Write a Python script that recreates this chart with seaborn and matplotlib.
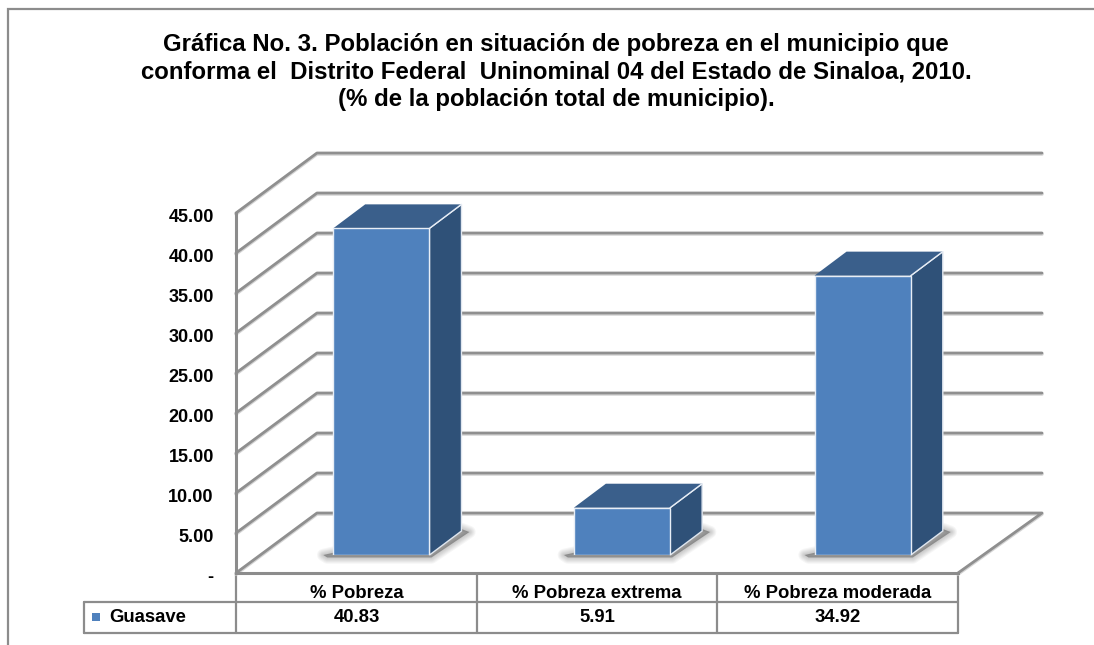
import matplotlib
matplotlib.use('Agg')

import pandas as pd
import seaborn as sns
import matplotlib.pyplot as plt
from matplotlib.lines import Line2D
from matplotlib.patches import Polygon
from matplotlib.transforms import Affine2D

title_lines = ['Gráfica No. 3. Población en situación de pobreza en el municipio que',
               'conforma el  Distrito Federal  Uninominal 04 del Estado de Sinaloa, 2010.',
               '(% de la población total de municipio).']
categories = ['% Pobreza', '% Pobreza extrema', '% Pobreza moderada']
series_name = 'Guasave'
guasave = [40.83, 5.91, 34.92]
value_labels = ['40.83', '5.91', '34.92']
y_ticks = [0, 5, 10, 15, 20, 25, 30, 35, 40, 45]

W, H = 1094, 645
GRAY = '#8c8c8c'
FRONT = '#4f81bd'
SIDE = '#2f5178'
TOP = '#3a5f8b'

sns.set_theme(style='white')
plt.rcParams['font.family'] = ['Liberation Sans', 'DejaVu Sans']
plt.rcParams['font.weight'] = 'bold'


def px_axes(fig, x0, y0, x1, y1, **kw):
    # axes from pixel box, y counted from top of the image
    return fig.add_axes([x0 / W, 1 - y1 / H, (x1 - x0) / W, (y1 - y0) / H], **kw)


fig = plt.figure(figsize=(W / 100, H / 100), dpi=100, facecolor='white')

# page layer: frame, title, table
page = px_axes(fig, 0, 0, W, H, zorder=0)
page.set_xlim(0, W)
page.set_ylim(H, 0)
page.axis('off')
page.plot([8, 8, W], [H, 9, 9], color=GRAY, lw=1.6, solid_joinstyle='miter', clip_on=False)

for y, line in zip([51, 79, 106], title_lines):
    page.text(556, y, line, ha='center', va='baseline', fontsize=17.3, fontweight='bold', color='black')

table_x = [236, 477, 717, 958]
table_color = '#8c8c8c'
for x in table_x:
    page.plot([x, x], [575, 633], color=table_color, lw=1.6)
page.plot([84, 958], [602, 602], color=table_color, lw=1.6)
page.plot([84, 958], [633, 633], color=table_color, lw=1.6)
page.plot([84, 84], [602, 633], color=table_color, lw=1.6)
page.scatter([96], [617], marker='s', s=26, color=FRONT, linewidths=0)
page.text(109, 618, series_name, ha='left', va='center', fontsize=13.3, fontweight='bold', color='black')
for i in range(3):
    xc = (table_x[i] + table_x[i + 1]) / 2
    page.text(xc, 593, categories[i], ha='center', va='center', fontsize=13.3, fontweight='bold', color='black')
    page.text(xc, 618, value_labels[i], ha='center', va='center', fontsize=13.3, fontweight='bold', color='black')

# wall layer: y axis and the gridlines running back
wall = px_axes(fig, 236, 213, 958, 573, zorder=1)
wall.patch.set_alpha(0)
wall.set_xlim(0, 722)
wall.set_ylim(0, 45)
wall.set_xticks([])
wall.set_yticks(y_ticks)
wall.set_yticklabels(['-' if t == 0 else '%.2f' % t for t in y_ticks], fontsize=13, fontweight='bold', color='black')
wall.tick_params(axis='y', length=0, pad=16)
for label in wall.get_yticklabels():
    label.set_transform(label.get_transform() + Affine2D().translate(0, -2))
sns.despine(ax=wall, top=True, right=True)
for side in ['left', 'bottom']:
    wall.spines[side].set_color(GRAY)
    wall.spines[side].set_linewidth(2.2)

back_dx, back_dy = 81, 7.5  # 81 px right, 60 px up
back_right = 806
for t in y_ticks:
    xs = [0, back_dx, back_right]
    ys = [t, t + back_dy, t + back_dy]
    if t == 0:
        xs.append(722)
        ys.append(0)
    wall.plot(xs, [v - 0.12 for v in ys], color='#d4d4d4', lw=2.6, clip_on=False, zorder=1)
    wall.plot(xs, ys, color='#8f8f8f', lw=2.0, clip_on=False, zorder=2)

# bar layer: baseline sits further in, at pixel row 555
bars = px_axes(fig, 261, 195, 983, 555, zorder=2)
bars.patch.set_alpha(0)
df = pd.DataFrame({'categoria': categories, 'valor': guasave})
sns.barplot(data=df, x='categoria', y='valor', ax=bars, color=FRONT, saturation=1,
            width=0.4, edgecolor='#e8eef6', linewidth=1.0, zorder=5)
bars.set_xlim(-0.5, 2.5)
bars.set_ylim(0, 45)
bars.axis('off')

px_x = 3 / 722  # data units per px on x
px_y = 45 / 360
dx, dy = 32 * px_x, 24 * px_y
for p in list(bars.patches):
    x0, x1 = p.get_x(), p.get_x() + p.get_width()
    top = p.get_height()
    # soft floor shadow, strokes of growing width fade it out
    shadow = [(x0 - 10 * px_x, 0), (x0 - 6 * px_x, -2.5 * px_y), (x1 + 2 * px_x, -2.5 * px_y),
              (x1 + dx + 8 * px_x, dy - 1 * px_y), (x1 + dx, dy + 2 * px_y), (x1, dy)]
    bars.add_patch(Polygon(shadow, closed=True, facecolor=(0, 0, 0, 0.3), edgecolor='none',
                           clip_on=False, zorder=3))
    for lw in [9, 7.5, 6, 4.5, 3, 1.5]:
        bars.add_patch(Polygon(shadow, closed=True, facecolor='none', edgecolor=(0, 0, 0, 0.035),
                               lw=lw, joinstyle='round', clip_on=False, zorder=3))
    # depth faces
    bars.add_patch(Polygon([(x1, 0), (x1 + dx, dy), (x1 + dx, top + dy), (x1, top)], closed=True,
                           facecolor=SIDE, edgecolor='#dfe6ef', lw=1.0, clip_on=False, zorder=4))
    bars.add_patch(Polygon([(x0, top), (x0 + dx, top + dy), (x1 + dx, top + dy), (x1, top)], closed=True,
                           facecolor=TOP, edgecolor='none', clip_on=False, zorder=4))
    bars.add_line(Line2D([x1, x1 + dx], [top, top + dy], color='#e8eef6', lw=1.0, zorder=6, clip_on=False))

fig.savefig('out.png', dpi=100)
